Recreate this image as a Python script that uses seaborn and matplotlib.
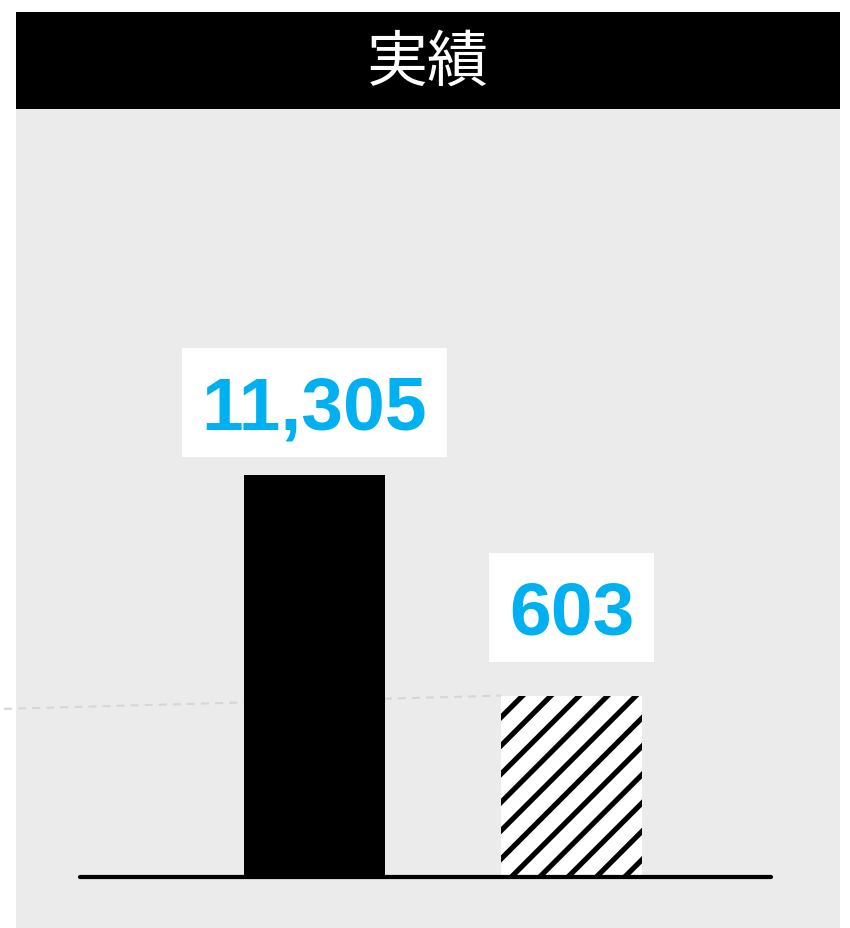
"""
実績 — two-bar result panel (black solid vs hatched)
"""
import matplotlib.pyplot as plt
import seaborn as sns
from matplotlib.patches import Rectangle

# ---------------------------------------------------------------------------
# Data
# ---------------------------------------------------------------------------
TITLE = "実績"
categories = ["実績A", "実績B"]
label_values = [11305, 603]
bar_heights = [100, 45]          # drawn height (relative, as in the picture)
bar_colors = ["#000000", "#ffffff"]
bar_hatches = ["", "/"]

BLUE = "#00b0f0"
PANEL = "#ebebeb"

# ---------------------------------------------------------------------------
# Config (low dpi so the hatch spacing matches the original)
# ---------------------------------------------------------------------------
W, H, DPI = 850, 928, 85


def pt(px):
    return px * 72 / DPI


def fx(px):
    return px / W


def fy(py):
    # pixel row (top origin) -> figure fraction
    return 1 - py / H


sns.set_style("white")
plt.rcParams["font.family"] = ["Liberation Sans", "DejaVu Sans"]
plt.rcParams["hatch.linewidth"] = pt(5.2)

fig = plt.figure(figsize=(W / DPI, H / DPI), dpi=DPI, facecolor="white")

# background panel + title bar
fig.add_artist(Rectangle((fx(16), 0), fx(824), fy(109), transform=fig.transFigure,
                         facecolor=PANEL, edgecolor="none", zorder=-3))
fig.add_artist(Rectangle((fx(16), fy(109)), fx(824), (109 - 12) / H,
                         transform=fig.transFigure, facecolor="black",
                         edgecolor="none", zorder=-2))
fig.text(fx(428), fy(63), TITLE, color="white", fontsize=pt(61), ha="center",
         va="center", family=["Noto Sans CJK JP", "DejaVu Sans"])

# ---------------------------------------------------------------------------
# Bars
# ---------------------------------------------------------------------------
base_px, top_px = 876.5, 474.5
ax = fig.add_axes([fx(80), fy(base_px), fx(691), (base_px - top_px) / H])
ax.patch.set_alpha(0)

bar_w = 141 / 257
sns.barplot(x=categories, y=bar_heights, hue=categories, palette=bar_colors,
            legend=False, width=bar_w, saturation=1, ax=ax, zorder=2)
for patch, hatch in zip(ax.patches, bar_hatches):
    patch.set_edgecolor("black")
    patch.set_linewidth(0)
    patch.set_hatch(hatch)

ax.set_xlim(-(314.5 - 80) / 257, 1 + (771 - 571.5) / 257)
ax.set_ylim(0, 100)
ax.set_axis_off()
ax.axhline(0, color="black", lw=pt(4.2), clip_on=False, zorder=3)

# faint dashed connector ending at the hatched bar's top-left corner
ax.plot([-1.208, 1 - bar_w / 2], [41.7, bar_heights[1]], color="#d6d6d6", lw=pt(2.1),
        ls=(0, (3.8, 2.9)), clip_on=False, zorder=1)

# value labels in white boxes
label_lift_px = [45, 61]
fig.canvas.draw()
renderer = fig.canvas.get_renderer()
for i, (val, h) in enumerate(zip(label_values, bar_heights)):
    t = ax.annotate(f"{val:,}", xy=(i, h), xytext=(0, pt(label_lift_px[i])),
                    textcoords="offset points", ha="center", va="baseline",
                    fontsize=pt(75), fontweight="bold", color=BLUE, zorder=5,
                    annotation_clip=False)
    bb = t.get_window_extent(renderer)
    # baseline pixel (display coords, bottom origin)
    base_disp = ax.transData.transform((i, h))[1] + label_lift_px[i]
    pad_x = 20
    x0, x1 = bb.x0 - pad_x, bb.x1 + pad_x
    y0, y1 = base_disp - 27, base_disp + 82
    fig.add_artist(Rectangle((x0 / W, y0 / H), (x1 - x0) / W, (y1 - y0) / H,
                             transform=fig.transFigure, facecolor="white",
                             edgecolor="none", zorder=-1))

fig.savefig("out.png", dpi=DPI, facecolor="white")
